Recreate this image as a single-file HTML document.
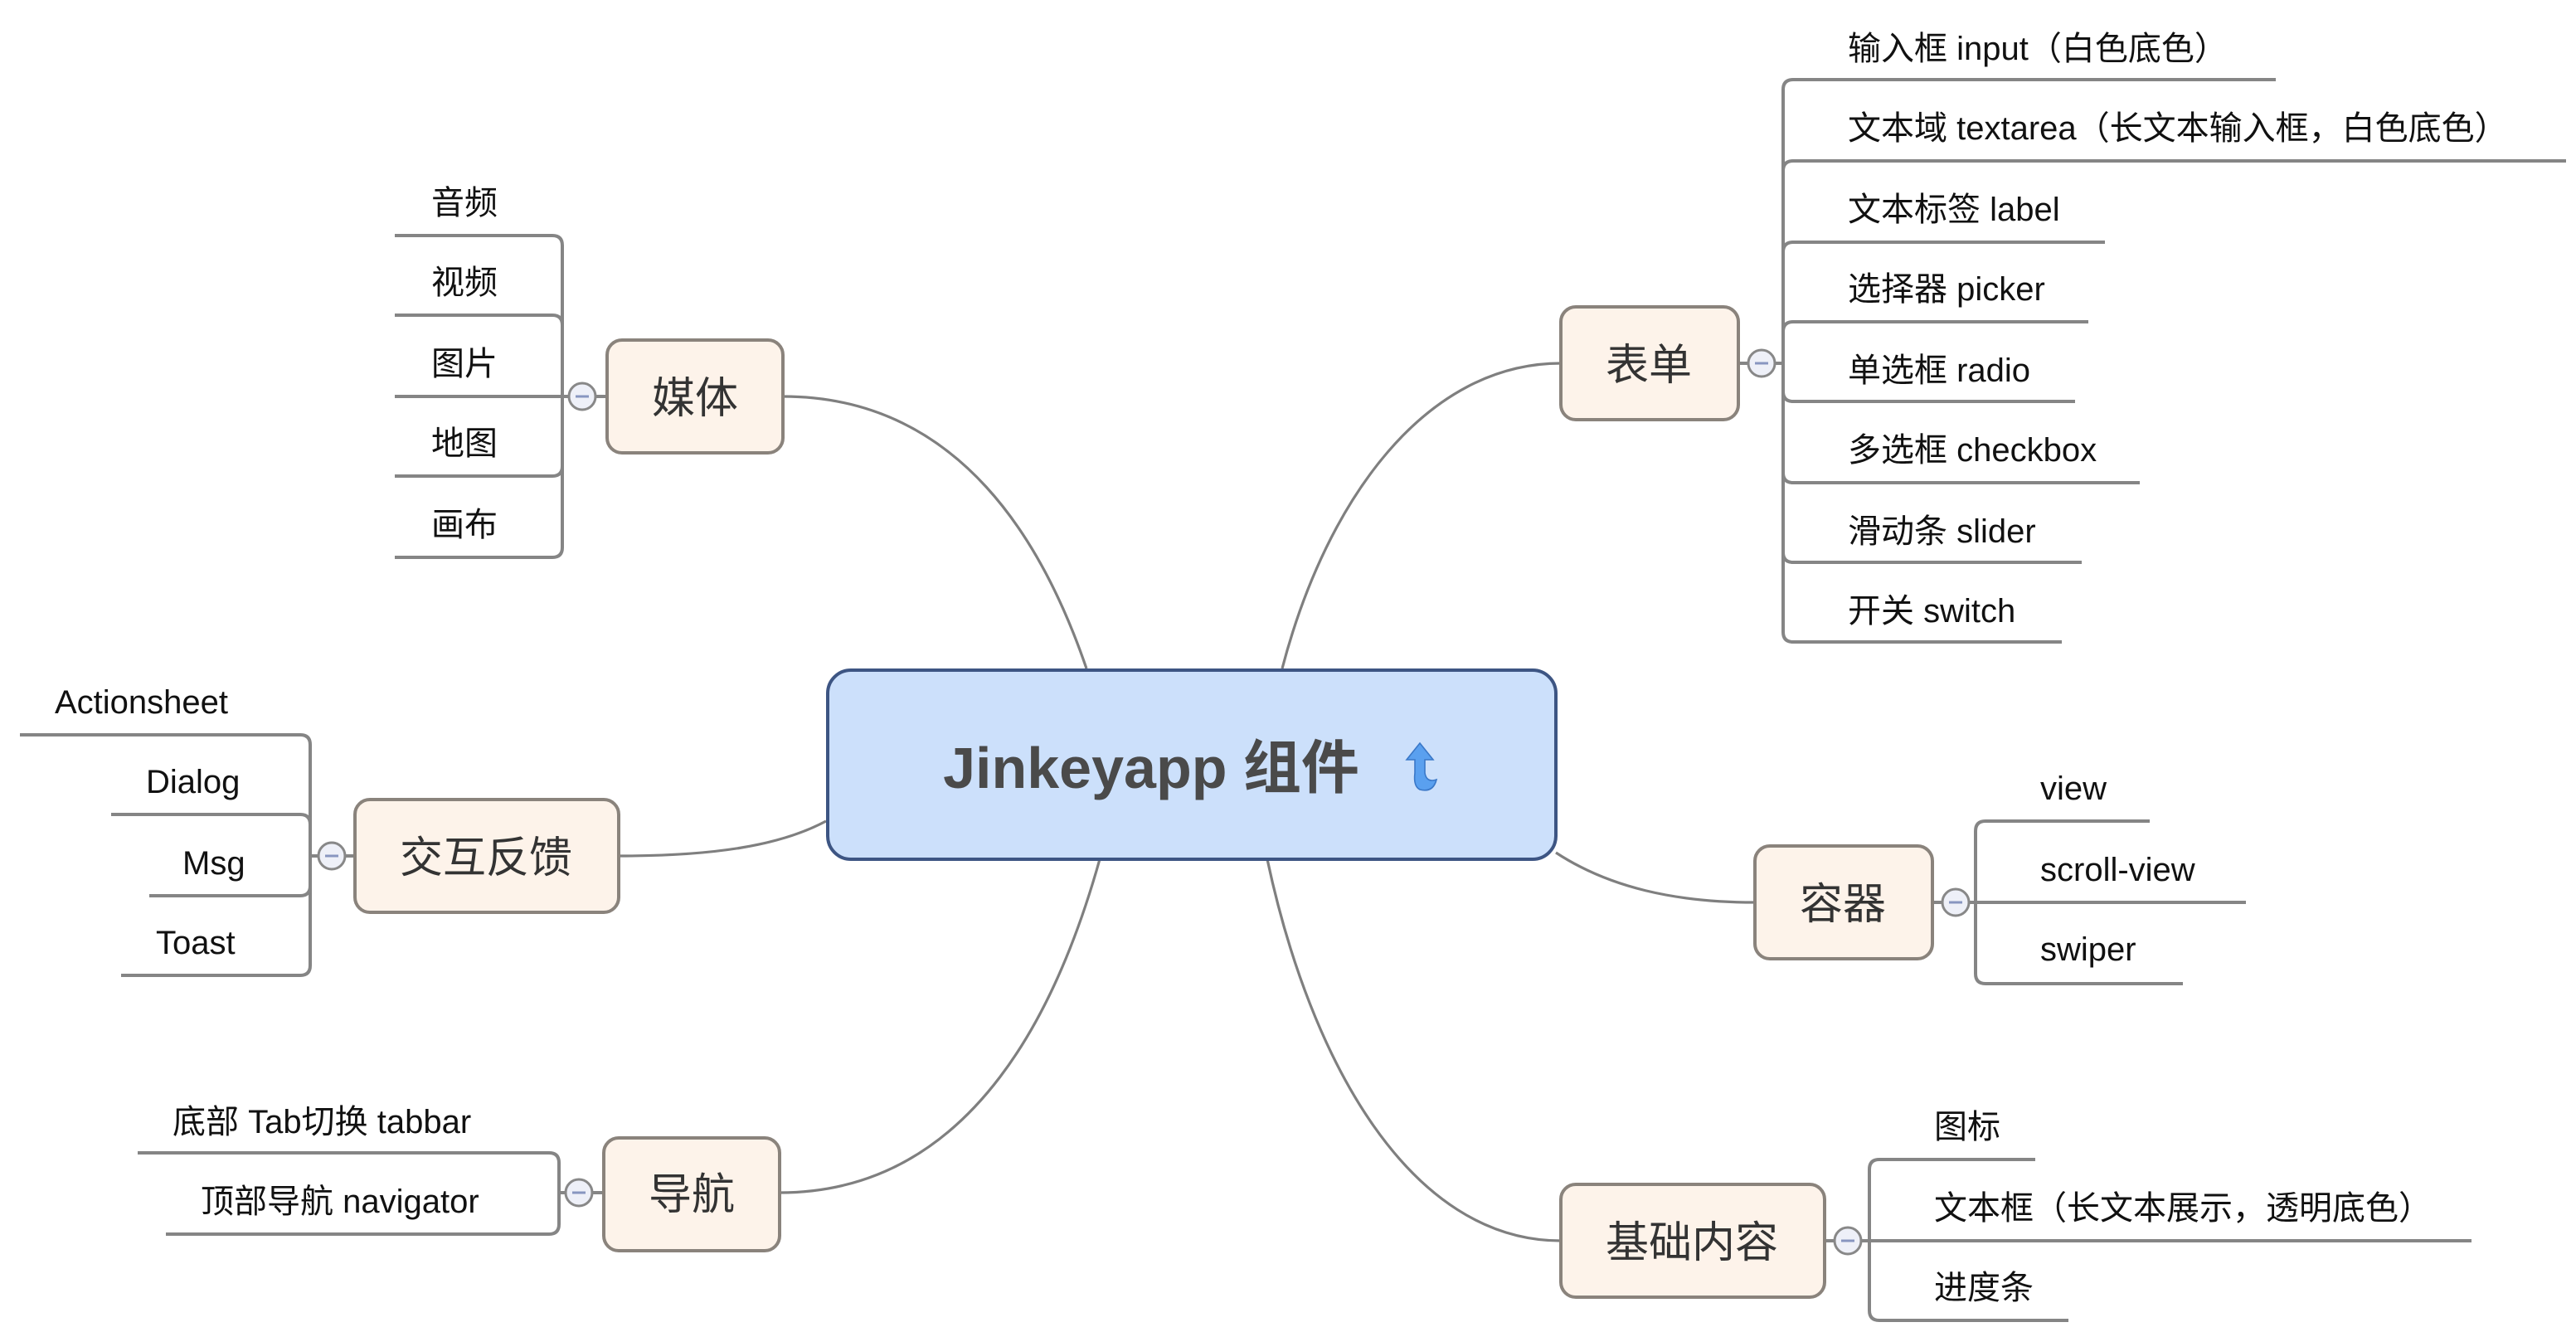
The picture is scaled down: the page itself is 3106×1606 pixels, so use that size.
<!DOCTYPE html>
<html><head><meta charset="utf-8"><style>
html,body{margin:0;padding:0;background:#fff;}
svg{display:block;}
text{font-family:"Liberation Sans","Noto Sans CJK SC",sans-serif;fill:#222;}
.b{font-size:26px;fill:#333;}
.l{font-size:20px;fill:#111;}
</style></head><body>
<svg width="3106" height="1606" viewBox="0 0 1553 803" xmlns="http://www.w3.org/2000/svg">
<g fill="none" stroke="#7f7f7f" stroke-width="1.6">
<path d="M773,403 C800,300 860,219 941,219"/>
<path d="M472,239 C580,239 630,330 655,403"/>
<path d="M373,516 C430,516 470,510 498,495"/>
<path d="M470,719 C590,719 640,600 663,518"/>
<path d="M938,514 C970,535 1010,544 1058,544"/>
<path d="M764,518 C790,640 850,748 941,748"/>
</g>
<g fill="none" stroke="#858585" stroke-width="2">
<!-- 表单 -->
<path d="M1048,219 H1075 M1075,54 V381"/>
<path d="M1075,54 Q1075,48 1081,48 H1372"/>
<path d="M1075,103 Q1075,97 1081,97 H1547"/>
<path d="M1075,152 Q1075,146 1081,146 H1269"/>
<path d="M1075,200 Q1075,194 1081,194 H1259"/>
<path d="M1075,236 Q1075,242 1081,242 H1251"/>
<path d="M1075,285 Q1075,291 1081,291 H1290"/>
<path d="M1075,333 Q1075,339 1081,339 H1255"/>
<path d="M1075,381 Q1075,387 1081,387 H1243"/>
<!-- 媒体 -->
<path d="M366,239 H339 M339,148 V330"/>
<path d="M339,148 Q339,142 333,142 H238"/>
<path d="M339,196 Q339,190 333,190 H238"/>
<path d="M339,239 H238"/>
<path d="M339,281 Q339,287 333,287 H238"/>
<path d="M339,330 Q339,336 333,336 H238"/>
<!-- 交互反馈 -->
<path d="M214,516 H187 M187,449 V582"/>
<path d="M187,449 Q187,443 181,443 H12"/>
<path d="M187,497 Q187,491 181,491 H67"/>
<path d="M187,534 Q187,540 181,540 H90"/>
<path d="M187,582 Q187,588 181,588 H73"/>
<!-- 导航 -->
<path d="M364,719 H337 M337,701 V738"/>
<path d="M337,701 Q337,695 331,695 H83"/>
<path d="M337,738 Q337,744 331,744 H100"/>
<!-- 容器 -->
<path d="M1165,544 H1191 M1191,501 V587"/>
<path d="M1191,501 Q1191,495 1197,495 H1296"/>
<path d="M1191,544 H1354"/>
<path d="M1191,587 Q1191,593 1197,593 H1316"/>
<!-- 基础内容 -->
<path d="M1100,748 H1127 M1127,705 V790"/>
<path d="M1127,705 Q1127,699 1133,699 H1227"/>
<path d="M1127,748 H1490"/>
<path d="M1127,790 Q1127,796 1133,796 H1247"/>
</g>
<!-- center -->
<rect x="499" y="404" width="439" height="114" rx="14" fill="#cce0fb" stroke="#3d5583" stroke-width="2"/>
<text x="694" y="475" text-anchor="middle" style="font-size:35px;font-weight:bold;fill:#4a4a4a">Jinkeyapp 组件</text>
<g transform="translate(856,462)">
<path d="M-8,-4 L0,-14 L8,-4 L3,-4 L3,4 Q4,10 10,8 Q8,16 0,14 Q-4,12 -3,4 L-3,-4 Z" fill="#5aa0ef" stroke="#3a78c8" stroke-width="0.8"/>
</g>
<!-- boxes -->
<g fill="#fdf3ea" stroke="#8a837c" stroke-width="2">
<rect x="941" y="185" width="107" height="68" rx="9"/>
<rect x="366" y="205" width="106" height="68" rx="9"/>
<rect x="214" y="482" width="159" height="68" rx="9"/>
<rect x="364" y="686" width="106" height="68" rx="9"/>
<rect x="1058" y="510" width="107" height="68" rx="9"/>
<rect x="941" y="714" width="159" height="68" rx="9"/>
</g>
<g class="b" text-anchor="middle">
<text class="b" x="994" y="229">表单</text>
<text class="b" x="419" y="249">媒体</text>
<text class="b" x="293" y="526">交互反馈</text>
<text class="b" x="417" y="729">导航</text>
<text class="b" x="1111" y="554">容器</text>
<text class="b" x="1020" y="758">基础内容</text>
</g>
<!-- collapse circles -->
<g>
<g transform="translate(1062,219)"><circle r="8" fill="#eef0f8" stroke="#888" stroke-width="1.5"/><path d="M-4,0H4" stroke="#8896c0" stroke-width="1.5"/></g>
<g transform="translate(351,239)"><circle r="8" fill="#eef0f8" stroke="#888" stroke-width="1.5"/><path d="M-4,0H4" stroke="#8896c0" stroke-width="1.5"/></g>
<g transform="translate(200,516)"><circle r="8" fill="#eef0f8" stroke="#888" stroke-width="1.5"/><path d="M-4,0H4" stroke="#8896c0" stroke-width="1.5"/></g>
<g transform="translate(349,719)"><circle r="8" fill="#eef0f8" stroke="#888" stroke-width="1.5"/><path d="M-4,0H4" stroke="#8896c0" stroke-width="1.5"/></g>
<g transform="translate(1179,544)"><circle r="8" fill="#eef0f8" stroke="#888" stroke-width="1.5"/><path d="M-4,0H4" stroke="#8896c0" stroke-width="1.5"/></g>
<g transform="translate(1114,748)"><circle r="8" fill="#eef0f8" stroke="#888" stroke-width="1.5"/><path d="M-4,0H4" stroke="#8896c0" stroke-width="1.5"/></g>
</g>
<!-- leaves -->
<g>
<text class="l" x="1114" y="36">输入框 input（白色底色）</text>
<text class="l" x="1114" y="84">文本域 textarea（长文本输入框，白色底色）</text>
<text class="l" x="1114" y="133">文本标签 label</text>
<text class="l" x="1114" y="181">选择器 picker</text>
<text class="l" x="1114" y="230">单选框 radio</text>
<text class="l" x="1114" y="278">多选框 checkbox</text>
<text class="l" x="1114" y="327">滑动条 slider</text>
<text class="l" x="1114" y="375">开关 switch</text>
<text class="l" x="260" y="129">音频</text>
<text class="l" x="260" y="177">视频</text>
<text class="l" x="260" y="226">图片</text>
<text class="l" x="260" y="274">地图</text>
<text class="l" x="260" y="323">画布</text>
<text class="l" x="33" y="430">Actionsheet</text>
<text class="l" x="88" y="478">Dialog</text>
<text class="l" x="110" y="527">Msg</text>
<text class="l" x="94" y="575">Toast</text>
<text class="l" x="104" y="683">底部 Tab切换 tabbar</text>
<text class="l" x="121" y="731">顶部导航 navigator</text>
<text class="l" x="1230" y="482">view</text>
<text class="l" x="1230" y="531">scroll-view</text>
<text class="l" x="1230" y="579">swiper</text>
<text class="l" x="1166" y="686">图标</text>
<text class="l" x="1166" y="735">文本框（长文本展示，透明底色）</text>
<text class="l" x="1166" y="783">进度条</text>
</g>
</svg>
</body></html>
